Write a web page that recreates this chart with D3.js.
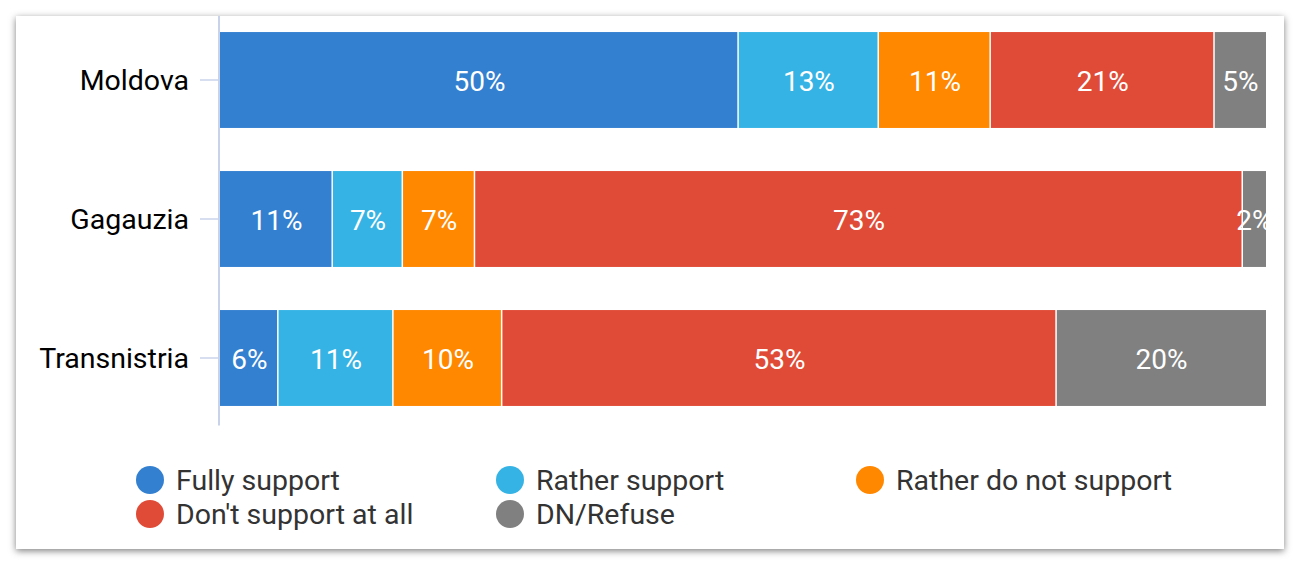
<!DOCTYPE html>
<html>
<head>
<meta charset="utf-8">
<script src="https://cdn.jsdelivr.net/npm/d3@7"></script>
<style>
  body { margin: 0; background: #fff; }
  svg { display: block; font-family: Roboto, "Noto Sans", sans-serif; }
</style>
</head>
<body>
<svg id="chart" width="1300" height="566"></svg>
<script>
const regions = ["Moldova", "Gagauzia", "Transnistria"];
const answers = ["Fully support", "Rather support", "Rather do not support", "Don't support at all", "DN/Refuse"];
const colors = ["#3480d0", "#36b3e5", "#ff8800", "#e04b37", "#808080"];

// share of answers per region, in percent (same order as answers)
const moldova = [49.6, 13.4, 10.7, 21.4, 4.9];
const gagauzia = [10.8, 6.7, 6.9, 73.4, 2.2];
const transnistria = [5.6, 11.0, 10.4, 53.0, 20.0];

const svg = d3.select("#chart");

// card with shadow
const defs = svg.append("defs");
const f = defs.append("filter").attr("id", "shadow")
  .attr("x", "-5%").attr("y", "-5%").attr("width", "110%").attr("height", "115%");
f.append("feDropShadow").attr("dx", 0).attr("dy", 2).attr("stdDeviation", 3.5)
  .attr("flood-color", "#000").attr("flood-opacity", 0.5);
svg.append("rect").attr("x", 16).attr("y", 16).attr("width", 1268).attr("height", 533)
  .attr("fill", "#fff").attr("filter", "url(#shadow)");

const rows = [moldova, gagauzia, transnistria].map((vals, i) => {
  const r = { region: regions[i] };
  answers.forEach((a, j) => r[a] = vals[j]);
  return r;
});

const x = d3.scaleLinear().domain([0, 100]).range([220, 1266]);
const y = d3.scaleBand().domain(regions).range([10.5, 427.5])
  .paddingInner(0.31).paddingOuter(0.155);
const color = d3.scaleOrdinal().domain(answers).range(colors);

const stacked = d3.stack().keys(answers)(rows);

const g = svg.append("g");
stacked.forEach(layer => {
  g.append("g").selectAll("rect").data(layer).enter().append("rect")
    .attr("x", d => x(d[0]))
    .attr("y", d => y(d.data.region))
    .attr("width", d => Math.max(0, x(d[1]) - x(d[0]) - (d[1] >= 99.9 ? 0 : 1.5)))
    .attr("height", y.bandwidth())
    .attr("fill", color(layer.key));
});
stacked.forEach(layer => {
  g.append("g").selectAll("text").data(layer).enter().append("text")
    .attr("x", d => (x(d[0]) + x(d[1])) / 2)
    .attr("y", d => y(d.data.region) + y.bandwidth() / 2)
    .attr("dy", "0.4em")
    .attr("text-anchor", "middle")
    .attr("fill", "#fff")
    .style("font-size", "28px")
    .text(d => Math.round(d[1] - d[0]) + "%");
});

// y axis
const axis = svg.append("g").attr("transform", "translate(219,0)")
  .call(d3.axisLeft(y).tickSize(19).tickPadding(11));
axis.attr("font-family", null).attr("font-size", null);
axis.select(".domain").remove();
axis.selectAll(".tick line").attr("stroke", "#c8d3ea").attr("stroke-width", 1.5);
axis.selectAll(".tick text").attr("fill", "#000").attr("dy", "0.36em").style("font-size", "28.5px");
svg.append("line").attr("x1", 219).attr("x2", 219).attr("y1", 16).attr("y2", 425.5)
  .attr("stroke", "#c8d3ea").attr("stroke-width", 2);

// legend
const legend = svg.append("g");
const item = legend.selectAll("g").data(answers).enter().append("g")
  .attr("transform", (d, i) => `translate(${150 + (i % 3) * 360},${480 + Math.floor(i / 3) * 34})`);
item.append("circle").attr("r", 14).attr("fill", d => color(d));
item.append("text").attr("x", 26).attr("dy", "0.36em")
  .attr("fill", "#333").style("font-size", "28.5px").text(d => d);
</script>
</body>
</html>
